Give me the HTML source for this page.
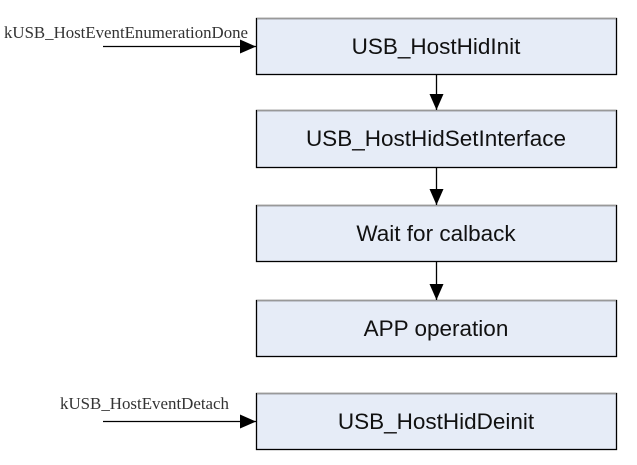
<!DOCTYPE html>
<html><head><style>html,body{margin:0;padding:0;background:#fff}</style></head><body>
<svg width="637" height="460" xmlns="http://www.w3.org/2000/svg">
<defs>
<marker id="b" markerWidth="16" markerHeight="14" refX="16" refY="7" orient="auto" markerUnits="userSpaceOnUse" viewBox="0 0 16 14"><path d="M0,0 L16,7 L0,14 z" fill="#000"/></marker>
</defs>
<g fill="#e6ecf7" stroke="#000" stroke-width="1.3">
<rect x="256.5" y="18.5" width="360" height="56"/>
<rect x="256.5" y="110.5" width="360" height="57"/>
<rect x="256.5" y="205.5" width="360" height="56"/>
<rect x="256.5" y="300.5" width="360" height="56"/>
<rect x="256.5" y="393.5" width="360" height="56"/>
</g>
<g stroke="#999" stroke-width="1.3">
<line x1="257" y1="18.5" x2="616" y2="18.5"/><line x1="257" y1="110.5" x2="616" y2="110.5"/><line x1="257" y1="205.5" x2="616" y2="205.5"/><line x1="257" y1="300.5" x2="616" y2="300.5"/><line x1="257" y1="393.5" x2="616" y2="393.5"/>
</g>
<g stroke="#000" stroke-width="1.3">
<line x1="436.5" y1="75" x2="436.5" y2="110" marker-end="url(#b)"/>
<line x1="436.5" y1="168" x2="436.5" y2="205" marker-end="url(#b)"/>
<line x1="436.5" y1="262" x2="436.5" y2="300" marker-end="url(#b)"/>
<line x1="103" y1="46.5" x2="256" y2="46.5" marker-end="url(#b)"/>
<line x1="103" y1="421.5" x2="256" y2="421.5" marker-end="url(#b)"/>
</g>
<g font-family="Liberation Sans, sans-serif" font-size="22.5" fill="#111" text-anchor="middle">
<text x="436" y="54">USB_HostHidInit</text>
<text x="436" y="146">USB_HostHidSetInterface</text>
<text x="436" y="241">Wait for calback</text>
<text x="436" y="336">APP operation</text>
<text x="436" y="429">USB_HostHidDeinit</text>
</g>
<g font-family="Liberation Serif, serif" font-size="17" fill="#333">
<text x="4" y="38" textLength="244" lengthAdjust="spacingAndGlyphs">kUSB_HostEventEnumerationDone</text>
<text x="60" y="409" textLength="169" lengthAdjust="spacingAndGlyphs">kUSB_HostEventDetach</text>
</g>
</svg>
</body></html>
